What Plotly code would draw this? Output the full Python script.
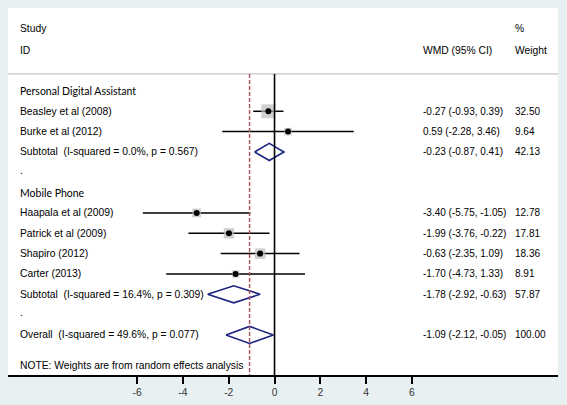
import plotly.graph_objects as go

# ---- data ----
study_labels = ["Beasley et al (2008)", "Burke et al (2012)",
                "Haapala et al (2009)", "Patrick et al (2009)", "Shapiro (2012)", "Carter (2013)"]
study_rows = [1, 2, 6, 7, 8, 9]
study_est = [-0.27, 0.59, -3.40, -1.99, -0.63, -1.70]
study_lo = [-0.93, -2.28, -5.75, -3.76, -2.35, -4.73]
study_hi = [0.39, 3.46, -1.05, -0.22, 1.09, 1.33]
study_wt = [32.50, 9.64, 12.78, 17.81, 18.36, 8.91]

pooled_labels = ["Subtotal&nbsp; (I-squared = 0.0%, p = 0.567)",
                 "Subtotal&nbsp; (I-squared = 16.4%, p = 0.309)",
                 "Overall&nbsp; (I-squared = 49.6%, p = 0.077)"]
pooled_rows = [3, 10, 12]
pooled_est = [-0.23, -1.78, -1.09]
pooled_lo = [-0.87, -2.92, -2.12]
pooled_hi = [0.41, -0.63, -0.05]
pooled_wt = [42.13, 57.87, 100.00]

group_labels = ["Personal Digital Assistant", "Mobile Phone"]
group_rows = [0, 5]
dot_rows = [4, 11]

overall_est = -1.09
tick_vals = [-6, -4, -2, 0, 2, 4, 6]
note_text = "NOTE: Weights are from random effects analysis"

ARIAL = "Liberation Sans, Arial, sans-serif"
FS = 10.3
BG = "#e9f0f2"

fig = go.Figure()

# CI lines
for r, lo, hi in zip(study_rows, study_lo, study_hi):
    fig.add_trace(go.Scatter(x=[lo, hi], y=[r, r], mode="lines",
                             line=dict(color="black", width=1.5),
                             showlegend=False, hoverinfo="skip"))
# weight squares
fig.add_trace(go.Scatter(x=study_est, y=study_rows, mode="markers",
                         marker=dict(symbol="square", color="#bdbdbd",
                                     size=[(w ** 0.5) * 2.46 for w in study_wt],
                                     line=dict(width=0)),
                         showlegend=False, hoverinfo="skip"))
# point estimates
fig.add_trace(go.Scatter(x=study_est, y=study_rows, mode="markers",
                         marker=dict(symbol="circle", color="black", size=6),
                         showlegend=False, hoverinfo="skip"))
# diamonds
h = 0.42
for r, e, lo, hi in zip(pooled_rows, pooled_est, pooled_lo, pooled_hi):
    fig.add_trace(go.Scatter(x=[lo, e, hi, e, lo], y=[r, r - h, r, r + h, r],
                             mode="lines", fill="toself", fillcolor="white",
                             line=dict(color="#1c2580", width=1.6),
                             showlegend=False, hoverinfo="skip"))

sep_y = -0.84
ann = []
shapes = [
    dict(type="line", xref="paper", x0=0, x1=1, yref="y", y0=sep_y, y1=sep_y,
         line=dict(color="#c4c4c4", width=1.2)),
    dict(type="line", xref="x", x0=0, x1=0, yref="y", y0=sep_y, y1=13.97,
         line=dict(color="black", width=1.6)),
    dict(type="line", xref="x", x0=overall_est, x1=overall_est, yref="y", y0=sep_y, y1=13.97,
         line=dict(color="#a8505c", width=1.4, dash="4px,2px")),
]

XL, XW, XP = 0.0182, 0.751, 0.918


def txt(x, y, s, font=ARIAL, size=FS):
    ann.append(dict(xref="paper", yref="y", x=x, y=y, text=s, showarrow=False,
                    xanchor="left", yanchor="middle",
                    font=dict(family=font, size=size, color="black")))


# header
txt(XL, -3.05, "Study")
txt(XL, -2.0, "ID")
txt(XW, -2.0, "WMD (95% CI)")
txt(XP, -3.05, "%")
txt(XP, -2.0, "Weight")

for lab, r in zip(group_labels, group_rows):
    txt(XL, r, lab, font="Lato, sans-serif", size=10.5)
for r in dot_rows:
    txt(XL, r - 0.1, ".")
for lab, r, e, lo, hi, w in zip(study_labels, study_rows, study_est, study_lo, study_hi, study_wt):
    txt(XL, r, lab)
    txt(XW, r, f"{e:.2f} ({lo:.2f}, {hi:.2f})", size=10)
    txt(XP, r, f"{w:.2f}", size=10)
for lab, r, e, lo, hi, w in zip(pooled_labels, pooled_rows, pooled_est, pooled_lo, pooled_hi, pooled_wt):
    txt(XL, r, lab)
    txt(XW, r, f"{e:.2f} ({lo:.2f}, {hi:.2f})", size=10)
    txt(XP, r, f"{w:.2f}", size=10)
txt(XL, 13.48, note_text)

fig.update_layout(
    width=567, height=405,
    margin=dict(l=8, r=9, t=8, b=30),
    paper_bgcolor=BG, plot_bgcolor="white",
    annotations=ann, shapes=shapes,
    xaxis=dict(range=[-11.64, 12.38], showgrid=False, zeroline=False,
               showline=True, linecolor="black", linewidth=2,
               tickvals=tick_vals, ticktext=[str(v) for v in tick_vals],
               ticks="outside", ticklen=7, tickwidth=1.5, tickcolor="black",
               tickfont=dict(family=ARIAL, size=FS, color="#333")),
    yaxis=dict(range=[13.97, -4.08], showgrid=False, zeroline=False,
               showticklabels=False, showline=False),
)

fig.write_html("out.html", config={"displayModeBar": False},
               post_script="document.body.style.margin='0';document.body.style.background='%s';" % BG)
